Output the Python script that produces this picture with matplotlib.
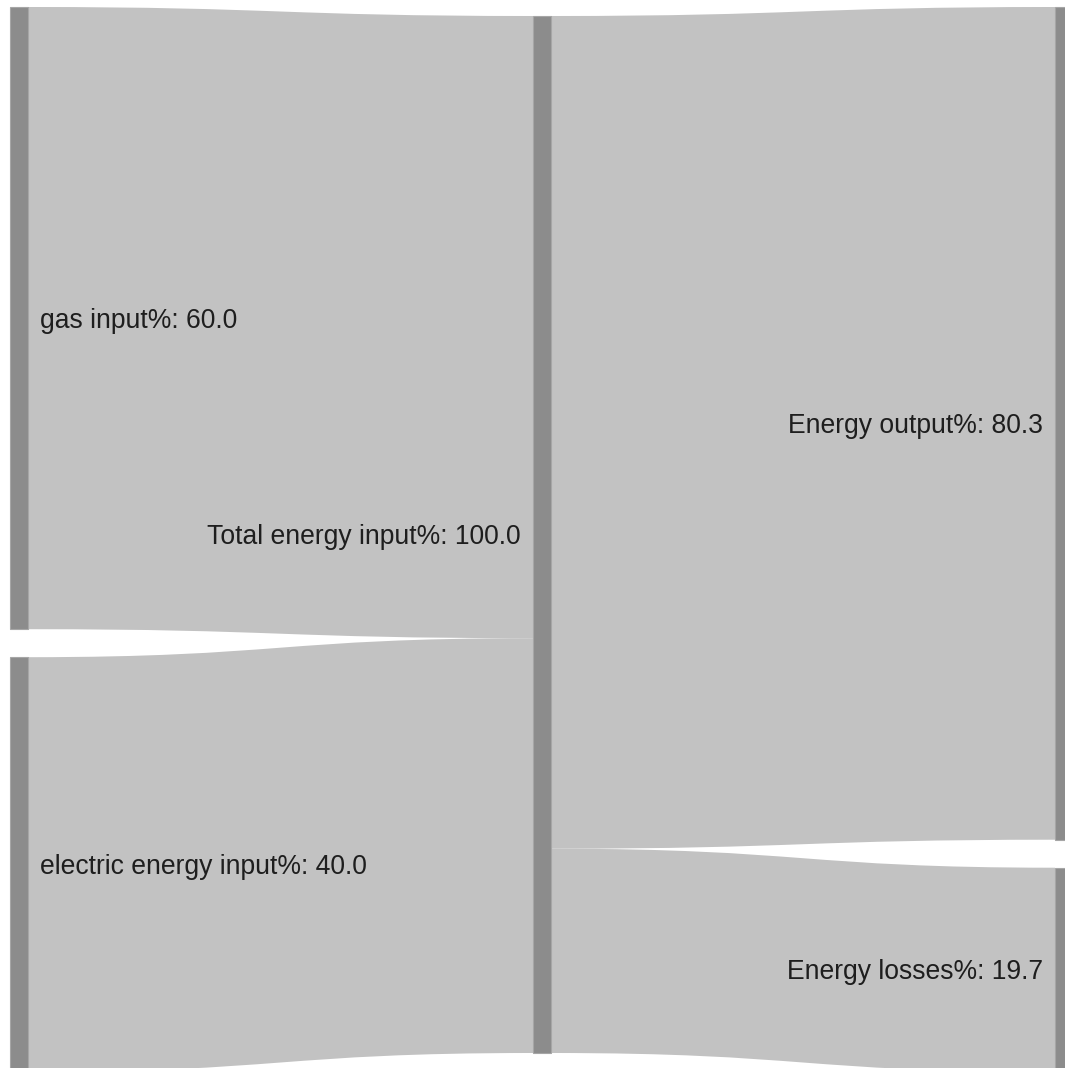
import matplotlib
matplotlib.use("Agg")
import matplotlib.pyplot as plt
from matplotlib.path import Path
from matplotlib.patches import PathPatch, Rectangle

# Sankey data
node_labels = ["gas input%", "electric energy input%", "Total energy input%",
               "Energy output%", "Energy losses%"]
node_values = [60.0, 40.0, 100.0, 80.3, 19.7]
link_source = [0, 1, 2, 2]
link_target = [2, 2, 3, 4]
link_value = [60.0, 40.0, 80.3, 19.7]

# Layout (pixels)
W, H = 1065, 1068
node_col = [0, 0, 1, 2, 2]
col_x = [10, 533, 1055]
node_w = 18
col_top = [7, 16, 7]
pad = 28
scale = 10.37  # pixels per percent

node_color = "#8c8c8c"
node_edge = "#a6a6a6"
link_color = "#c2c2c2"
font_pt = 19.1
cap_half = 9.5  # half the cap height in pixels, to centre labels on nodes

fig = plt.figure(figsize=(W / 100, H / 100), dpi=100)
ax = fig.add_axes([0, 0, 1, 1])
ax.set_xlim(0, W)
ax.set_ylim(H, 0)
ax.axis("off")

# node positions
node_y0 = {}
node_y1 = {}
col_cursor = list(col_top)
for i, v in enumerate(node_values):
    c = node_col[i]
    y0 = col_cursor[c]
    y1 = y0 + v * scale
    node_y0[i], node_y1[i] = y0, y1
    col_cursor[c] = y1 + pad

# links
out_cursor = dict(node_y0)
in_cursor = dict(node_y0)
for s, t, v in zip(link_source, link_target, link_value):
    x0 = col_x[node_col[s]] + node_w
    x1 = col_x[node_col[t]]
    h = v * scale
    s0, s1 = out_cursor[s], out_cursor[s] + h
    t0, t1 = in_cursor[t], in_cursor[t] + h
    out_cursor[s] = s1
    in_cursor[t] = t1
    xm = (x0 + x1) / 2
    verts = [(x0, s0), (xm, s0), (xm, t0), (x1, t0),
             (x1, t1), (xm, t1), (xm, s1), (x0, s1), (x0, s0)]
    codes = [Path.MOVETO, Path.CURVE4, Path.CURVE4, Path.CURVE4,
             Path.LINETO, Path.CURVE4, Path.CURVE4, Path.CURVE4, Path.CLOSEPOLY]
    ax.add_patch(PathPatch(Path(verts, codes), facecolor=link_color,
                           edgecolor="none", zorder=1))

# nodes and labels
for i, v in enumerate(node_values):
    c = node_col[i]
    x = col_x[c]
    y0, y1 = node_y0[i], node_y1[i]
    ax.add_patch(Rectangle((x, y0), node_w, y1 - y0, facecolor=node_color,
                           edgecolor=node_edge, linewidth=0.8, zorder=2))
    label = f"{node_labels[i]}: {v:.1f}"
    yb = (y0 + y1) / 2 + cap_half
    if c == 0:
        ax.text(x + node_w + 12, yb, label, ha="left", va="baseline",
                fontsize=font_pt, family="Liberation Sans", color="#1e1e1e", zorder=3)
    else:
        ax.text(x - 12, yb, label, ha="right", va="baseline",
                fontsize=font_pt, family="Liberation Sans", color="#1e1e1e", zorder=3)

fig.savefig("out.png", dpi=100, facecolor="white")
